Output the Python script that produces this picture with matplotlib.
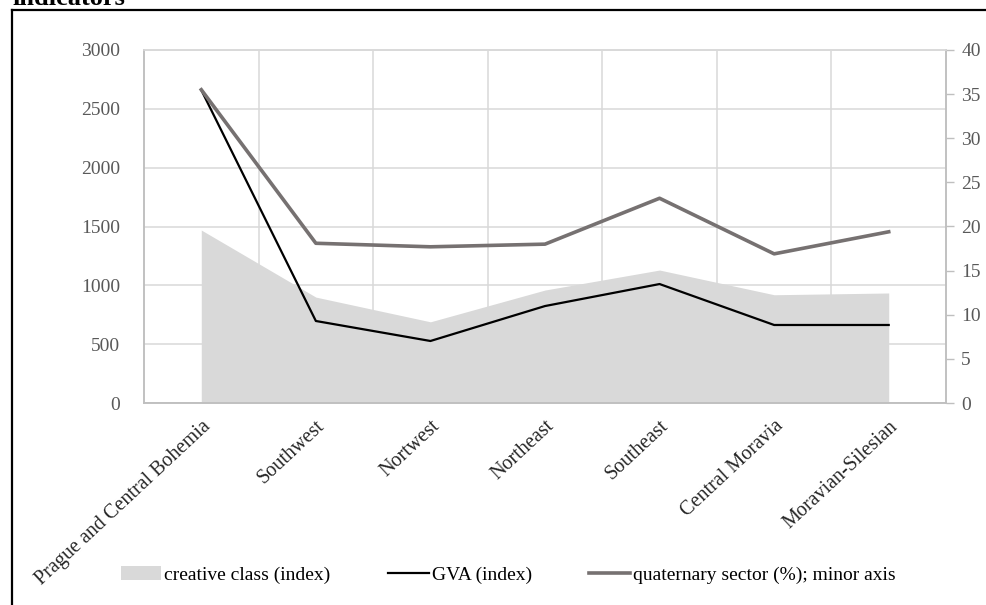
import matplotlib
matplotlib.use('Agg')
import matplotlib.pyplot as plt
from matplotlib.lines import Line2D
import numpy as np

plt.rcParams['font.family'] = ['Liberation Serif', 'DejaVu Serif']

regions = [
    'Prague and Central Bohemia',
    'Southwest',
    'Nortwest',
    'Northeast',
    'Southeast',
    'Central Moravia',
    'Moravian-Silesian',
]
creative_class = [1470, 900, 690, 960, 1130, 920, 935]
gva = [2660, 697, 527, 824, 1011, 663, 663]
quaternary = [35.5, 18.1, 17.7, 18.0, 23.2, 16.9, 19.4]

GRID = '#d9d9d9'
TICK = '#595959'

fig = plt.figure(figsize=(9.86, 6.05), dpi=100)
ax = fig.add_axes([144 / 986, 1 - 403 / 605, (946 - 144) / 986, (403 - 50) / 605])
ax2 = ax.twinx()

x = np.arange(len(regions))

ax.fill_between(x, 0, creative_class, color='#d9d9d9', linewidth=0, zorder=2,
                label='creative class (index)')
ax.plot(x, gva, color='black', linewidth=1.6, zorder=3, label='GVA (index)')
ax2.plot(x, quaternary, color='#767171', linewidth=2.6,
         label='quaternary sector (%); minor axis')

ax.set_xlim(-0.5, len(regions) - 0.5)
ax.set_ylim(0, 3000)
ax.set_yticks(np.arange(0, 3001, 500))
ax2.set_ylim(0, 40)
ax2.set_yticks(np.arange(0, 41, 5))

ax.set_xticks(x)
ax.set_xticklabels(regions, rotation=43, ha='right', va='top', rotation_mode='anchor',
                   fontsize=14.5, color='#262626')
ax.set_xticks(x[:-1] + 0.5, minor=True)
ax.tick_params(axis='x', which='both', length=0, pad=10)
ax.tick_params(axis='y', length=0, pad=17, labelsize=14, labelcolor=TICK)
ax2.tick_params(axis='y', length=6, width=1, color='#bfbfbf', pad=5,
                labelsize=14, labelcolor=TICK)

ax.set_axisbelow(True)
ax.grid(axis='y', which='major', color=GRID, linewidth=1.1)
ax.grid(axis='x', which='minor', color=GRID, linewidth=1.1)

for a in (ax, ax2):
    for side, sp in a.spines.items():
        sp.set_color('#bfbfbf')
        sp.set_linewidth(1.1)
    a.spines['top'].set_color(GRID)

# legend along the bottom
handles = [
    plt.Rectangle((0, 0), 1, 1, facecolor='#d9d9d9', edgecolor='none'),
    Line2D([], [], color='black', linewidth=1.6),
    Line2D([], [], color='#767171', linewidth=2.6),
]
labels = ['creative class (index)', 'GVA (index)', 'quaternary sector (%); minor axis']
fig.legend(handles, labels, loc='center', bbox_to_anchor=(508 / 986, 1 - 575 / 605),
           ncol=3, frameon=False, fontsize=14, handlelength=2.1, handletextpad=0.15,
           columnspacing=2.95)

# frame and heading text cut by the top edge
fig.add_artist(Line2D([12 / 986, 12 / 986], [0, 1 - 10 / 605], color='black',
                      linewidth=1.6, transform=fig.transFigure))
fig.add_artist(Line2D([12 / 986, 1], [1 - 10 / 605, 1 - 10 / 605], color='black',
                      linewidth=1.6, transform=fig.transFigure))
fig.text(12 / 986, 1 - 5 / 605, 'indicators', fontsize=19, fontweight='bold',
         ha='left', va='baseline', color='black')

fig.savefig('out.png', dpi=100)
